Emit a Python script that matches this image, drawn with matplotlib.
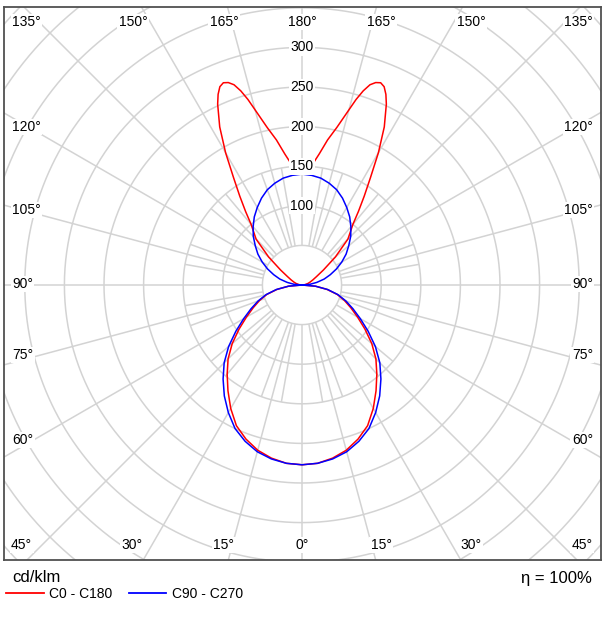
import matplotlib.pyplot as plt
from matplotlib.lines import Line2D
import numpy as np

plt.rcParams['font.family'] = ['Liberation Sans', 'DejaVu Sans']

# luminous intensity (cd/klm), gamma in degrees (0 = down)
gamma_low = [0, 5, 10, 15, 20, 25, 30, 35, 40, 45, 50, 55, 60, 65, 70, 75, 80, 85, 90]
c0_low = [227, 226, 222, 216, 207, 196, 180, 163, 147, 132, 115, 97, 81, 68, 57, 46, 32, 17, 0]
c90_low = [227, 226, 223, 218, 210, 200, 186, 171, 155, 139, 121, 102, 85, 71, 59, 47, 33, 17, 0]

gamma_up_c0 = [95, 100, 105, 110, 115, 120, 125, 130, 135, 140, 142.5, 145, 147.5, 150,
               152.5, 155, 156.25, 157.5, 158.75, 160, 161.25, 162.5, 163.75, 165,
               167.5, 170, 172.5, 175, 177.5, 180]
c0_up = [3, 5, 8, 11, 15, 21, 33, 55, 82, 100, 117, 137, 161, 193,
         225, 252, 263, 271, 274, 272, 267, 257, 244, 229,
         204, 186, 167, 153, 144, 141]

gamma_up_c90 = [95, 100, 105, 110, 115, 120, 125, 130, 135, 140, 145, 150, 155, 160, 165, 170, 175, 180]
c90_up = [10, 19, 29, 38, 48, 58, 68, 77, 87, 96, 105, 113, 121, 128, 133, 137, 139, 140]

ring_values = [100, 150, 200, 250, 300]

series = [("C0 - C180", "#ff0000", gamma_low + gamma_up_c0, c0_low + c0_up),
          ("C90 - C270", "#0000ff", gamma_low + gamma_up_c90, c90_low + c90_up)]

# pixel geometry of the plot window
PX_L, PX_R, PX_T, PX_B = 4, 601, 7, 560
CX, CY, SCALE = 302, 285, 0.792

fig = plt.figure(figsize=(6.06, 6.18), dpi=100)
W, H = 606, 618
ax = fig.add_axes([PX_L / W, 1 - PX_B / H, (PX_R - PX_L) / W, (PX_B - PX_T) / H])
ax.set_xlim((PX_L - CX) / SCALE, (PX_R - CX) / SCALE)
ax.set_ylim((CY - PX_B) / SCALE, (CY - PX_T) / SCALE)
ax.set_aspect('equal')
ax.set_xticks([])
ax.set_yticks([])
for sp in ax.spines.values():
    sp.set_color('#505050')
    sp.set_linewidth(1.3)

grid_kw = dict(color='#d3d3d3', lw=1.1, zorder=1, solid_capstyle='butt')
t = np.linspace(0, 2 * np.pi, 721)
for r in range(50, 550, 50):
    ax.plot(r * np.cos(t), r * np.sin(t), **grid_kw)
for a in range(0, 360, 5):
    if a % 15 == 0:
        r_end = 700
    elif a % 10 == 0:
        r_end = 150
    else:
        continue
    rad = np.deg2rad(a)
    ax.plot([50 * np.sin(rad), r_end * np.sin(rad)],
            [-50 * np.cos(rad), -r_end * np.cos(rad)], **grid_kw)

# curves: one half-plane per C-plane, mirrored
for name, col, g, v in series:
    g = np.array(g, dtype=float)
    v = np.array(v, dtype=float)
    ang = np.deg2rad(np.concatenate([-g[::-1], g]))
    rr = np.concatenate([v[::-1], v])
    ax.plot(rr * np.sin(ang), -rr * np.cos(ang), color=col, lw=1.1, zorder=3)

box = dict(facecolor='white', edgecolor='none', pad=1.0)
for rv in ring_values:
    ax.text(0, rv, str(rv), ha='center', va='center', fontsize=10, bbox=box, zorder=5)

def axfrac(px, py):
    return (px - PX_L) / (PX_R - PX_L), (PX_B - py) / (PX_B - PX_T)

top_labels = [(12, "135°", 'left'), (133, "150°", 'center'), (224, "165°", 'center'),
              (302, "180°", 'center'), (381, "165°", 'center'), (471, "150°", 'center'),
              (593, "135°", 'right')]
bot_labels = [(11, "45°", 'left'), (132, "30°", 'center'), (224, "15°", 'center'),
              (302, "0°", 'center'), (381, "15°", 'center'), (471, "30°", 'center'),
              (593, "45°", 'right')]
side_labels = [(127, "120°"), (210, "105°"), (284, "90°"), (355, "75°"), (440, "60°")]

for px, s, ha in top_labels:
    ax.text(*axfrac(px, 22), s, transform=ax.transAxes, ha=ha, va='center',
            fontsize=10, bbox=box, zorder=5)
for px, s, ha in bot_labels:
    ax.text(*axfrac(px, 545), s, transform=ax.transAxes, ha=ha, va='center',
            fontsize=10, bbox=box, zorder=5)
for py, s in side_labels:
    ax.text(*axfrac(12, py), s, transform=ax.transAxes, ha='left', va='center',
            fontsize=10, bbox=box, zorder=5)
    ax.text(*axfrac(593, py), s, transform=ax.transAxes, ha='right', va='center',
            fontsize=10, bbox=box, zorder=5)

fig.text(12 / W, 1 - 578 / H, "cd/klm", ha='left', va='center', fontsize=12)
fig.text(592 / W, 1 - 578 / H, "η = 100%", ha='right', va='center', fontsize=12)

handles = [Line2D([], [], color=c, lw=1.3) for _, c, _, _ in series]
fig.legend(handles, [s[0] for s in series], loc='center left',
           bbox_to_anchor=(6 / W, 1 - 594 / H), ncol=2, frameon=False,
           fontsize=10, handlelength=2.7, handletextpad=0.4, columnspacing=1.2,
           borderpad=0, borderaxespad=0)

fig.savefig("out.png", dpi=100)
